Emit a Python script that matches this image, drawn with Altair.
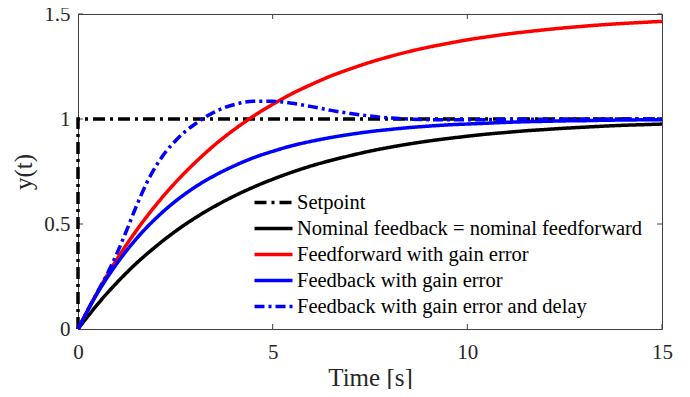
import altair as alt
import pandas as pd

# ---- data ----
series_names = [
    "Setpoint",
    "Nominal feedback = nominal feedforward",
    "Feedforward with gain error",
    "Feedback with gain error",
    "Feedback with gain error and delay",
]
series_colors = ["#000000", "#000000", "#ff0000", "#0000ff", "#0000ff"]
series_dashes = [[12, 5, 3, 5], [1, 0], [1, 0], [1, 0], [10, 4, 3, 4]]

setpoint_t = [0, 0, 15]
setpoint_y = [0, 1, 1]

time_s = [0, 0.5, 1, 1.5, 2, 2.5, 3, 3.5, 4, 4.5, 5, 5.5, 6, 6.5, 7, 7.5,
          8, 8.5, 9, 9.5, 10, 10.5, 11, 11.5, 12, 12.5, 13, 13.5, 14, 14.5, 15]
nominal_y = [0, 0.117, 0.221, 0.313, 0.393, 0.465, 0.528, 0.583, 0.632, 0.675,
             0.713, 0.747, 0.777, 0.803, 0.826, 0.847, 0.865, 0.881, 0.895,
             0.907, 0.918, 0.928, 0.936, 0.944, 0.950, 0.956, 0.961, 0.966,
             0.970, 0.973, 0.976]
ff_gain_y = [0, 0.176, 0.332, 0.469, 0.590, 0.697, 0.791, 0.875, 0.948, 1.013,
             1.070, 1.121, 1.165, 1.205, 1.239, 1.270, 1.297, 1.321, 1.342,
             1.360, 1.377, 1.391, 1.404, 1.415, 1.425, 1.434, 1.442, 1.449,
             1.455, 1.460, 1.465]
fb_gain_y = [0, 0.171, 0.312, 0.430, 0.527, 0.608, 0.675, 0.730, 0.776, 0.815,
             0.846, 0.873, 0.894, 0.912, 0.927, 0.940, 0.950, 0.959, 0.966,
             0.972, 0.976, 0.980, 0.984, 0.987, 0.989, 0.991, 0.992, 0.994,
             0.995, 0.996, 0.996]

delay_t = [0, 0.25, 0.5, 0.75, 1, 1.25, 1.5, 1.75, 2, 2.25, 2.5, 2.75, 3, 3.5,
           4, 4.5, 5, 5.5, 6, 6.5, 7, 7.5, 8, 8.5, 9, 10, 11, 12, 13, 14, 15]
delay_y = [0, 0.09, 0.176, 0.262, 0.36, 0.47, 0.585, 0.69, 0.775, 0.843, 0.895,
           0.94, 0.975, 1.033, 1.068, 1.084, 1.084, 1.075, 1.059, 1.041, 1.026,
           1.014, 1.005, 1.0, 0.997, 0.996, 0.998, 0.999, 1.0, 1.0, 1.0]

x_ticks = [0, 5, 10, 15]
y_ticks = [0, 0.5, 1, 1.5]
inner_x_ticks = [5, 10, 15]
inner_y_ticks = [0.5, 1, 1.5]

# ---- build tables ----
rows = []
for i, (t, y) in enumerate(zip(setpoint_t, setpoint_y)):
    rows.append({"t": t, "y": y, "series": series_names[0], "idx": i})
sp_df = pd.DataFrame(rows)

rows = []
for name, ts, ys in [
    (series_names[1], time_s, nominal_y),
    (series_names[2], time_s, ff_gain_y),
    (series_names[3], time_s, fb_gain_y),
    (series_names[4], delay_t, delay_y),
]:
    for i, (t, y) in enumerate(zip(ts, ys)):
        rows.append({"t": t, "y": y, "series": name, "idx": i})
curves_df = pd.DataFrame(rows)

W, H = 584, 315
FONT = "Liberation Serif"

x_enc = alt.X("t:Q", title="Time [s]",
              scale=alt.Scale(domain=[0, 15], nice=False, zero=False),
              axis=alt.Axis(values=x_ticks, grid=False, domain=False, tickSize=0,
                            labelFont=FONT, labelFontSize=21, labelColor="#262626",
                            labelPadding=12, titleFont=FONT, titleFontSize=25,
                            titleFontWeight="normal", titleColor="#262626",
                            titlePadding=3, labelFlush=False))
y_enc = alt.Y("y:Q", title="y(t)",
              scale=alt.Scale(domain=[0, 1.5], nice=False),
              axis=alt.Axis(values=y_ticks, format="~g", grid=False, domain=False,
                            tickSize=0, labelFont=FONT, labelFontSize=21,
                            labelColor="#262626", labelPadding=8, titleFont=FONT,
                            titleFontSize=25, titleFontWeight="normal",
                            titleColor="#262626", titlePadding=7, labelFlush=False))

legend = alt.Legend(orient="none", legendX=184, legendY=177, title=None,
                    symbolType="M-2,0H2", symbolSize=361, symbolStrokeWidth=3.5,
                    labelFont=FONT, labelFontSize=20.5, labelColor="#000000",
                    rowPadding=4, labelOffset=12, padding=0, labelLimit=0)
color_enc = alt.Color("series:N", scale=alt.Scale(domain=series_names, range=series_colors),
                      legend=legend, sort=series_names)
dash_enc = alt.StrokeDash("series:N", scale=alt.Scale(domain=series_names, range=series_dashes),
                          legend=legend, sort=series_names)

sp_layer = alt.Chart(sp_df).mark_line(strokeWidth=3.5, strokeCap="butt").encode(
    x=x_enc, y=y_enc, color=color_enc, strokeDash=dash_enc, order="idx:Q")

curve_layer = alt.Chart(curves_df).mark_line(
    strokeWidth=3.5, strokeCap="butt", interpolate="monotone").encode(
    x=x_enc, y=y_enc, color=color_enc, strokeDash=dash_enc, order="idx:Q")

bx = pd.DataFrame({"t": inner_x_ticks})
by = pd.DataFrame({"y": inner_y_ticks})
tick_color = "#404040"
bottom_ticks = alt.Chart(bx).mark_rule(color=tick_color, strokeWidth=1).encode(
    x=x_enc, y=alt.value(H), y2=alt.value(H - 5))
top_ticks = alt.Chart(bx).mark_rule(color=tick_color, strokeWidth=1).encode(
    x=x_enc, y=alt.value(0), y2=alt.value(5))
left_ticks = alt.Chart(by).mark_rule(color=tick_color, strokeWidth=1).encode(
    y=y_enc, x=alt.value(0), x2=alt.value(5))
right_ticks = alt.Chart(by).mark_rule(color=tick_color, strokeWidth=1).encode(
    y=y_enc, x=alt.value(W - 5), x2=alt.value(W))

chart = alt.layer(
    bottom_ticks, top_ticks, left_ticks, right_ticks, sp_layer, curve_layer
).properties(
    width=W, height=H,
    autosize=alt.AutoSizeParams(type="none"),
    padding={"left": 70, "top": 6, "right": 20, "bottom": 60},
    background="white",
).configure(
    font=FONT
).configure_axis(
    labelFont=FONT, titleFont=FONT
).configure_legend(
    labelFont=FONT
).configure_view(stroke="#404040", strokeWidth=1)

chart.save("out.html", embed_options={"renderer": "svg", "actions": False})
